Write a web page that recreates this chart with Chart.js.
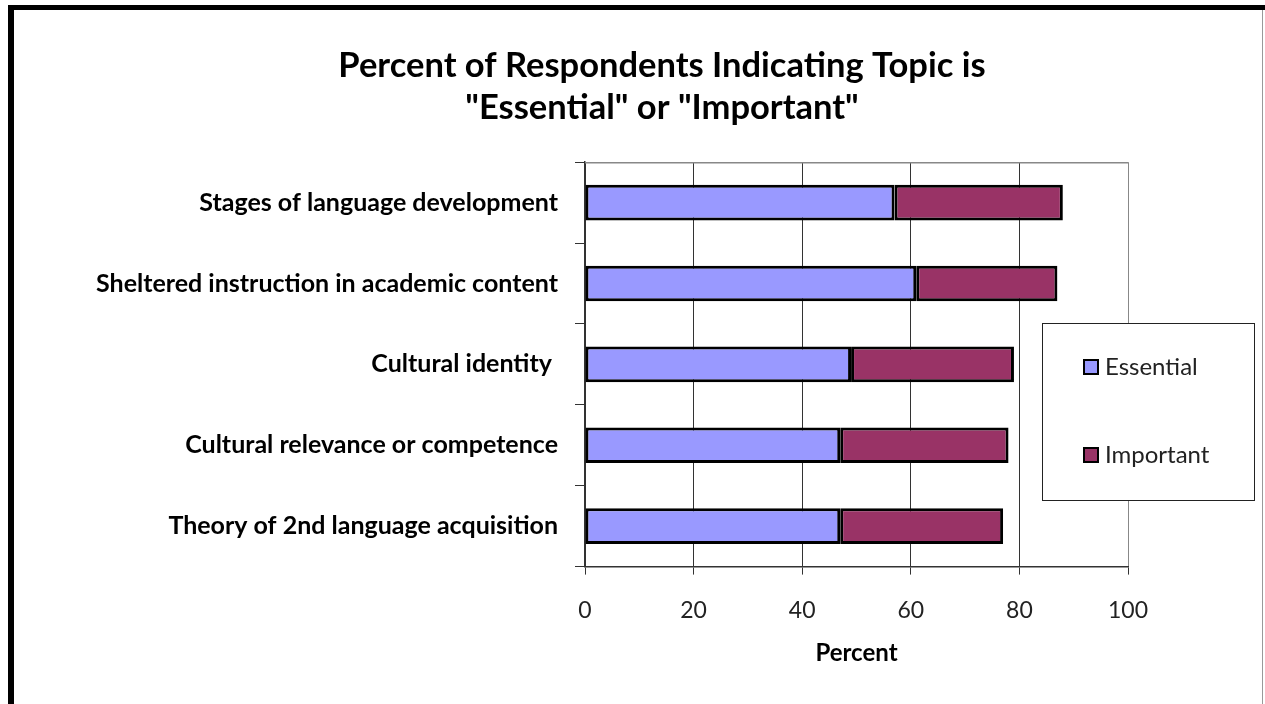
<!DOCTYPE html>
<html>
<head>
<meta charset="utf-8">
<script src="https://cdn.jsdelivr.net/npm/chart.js@4"></script>
<style>
html,body{margin:0;padding:0;background:#fff;}
#wrap{position:relative;width:1265px;height:704px;}
canvas{display:block;}
</style>
</head>
<body>
<div id="wrap"><canvas id="c" width="1265" height="704"></canvas></div>
<script>
const categories = [
  "Stages of language development",
  "Sheltered instruction in academic content",
  "Cultural identity ",
  "Cultural relevance or competence",
  "Theory of 2nd language acquisition"
];
const essential = [57, 61, 49, 47, 47];
const important = [31, 26, 30, 31, 30];
const seriesNames = ["Essential", "Important"];
const titleLines = ["Percent of Respondents Indicating Topic is", "\"Essential\" or \"Important\""];
const xTitle = "Percent";

const FONT = "Lato, 'Open Sans', sans-serif";

const framePlugin = {
  id: 'frame',
  afterLayout(chart) {
    if (chart.titleBlock) {
      chart.titleBlock.left = 196;
      chart.titleBlock.right = 1128;
    }
  },
  beforeDraw(chart) {
    const c = chart.ctx;
    c.save();
    c.fillStyle = '#fff';
    c.fillRect(0, 0, chart.width, chart.height);
    c.fillStyle = '#000';
    c.fillRect(8, 5, chart.width - 8, 5);
    c.fillRect(8, 5, 6, chart.height - 5);
    c.strokeStyle = '#999';
    c.lineWidth = 1;
    c.beginPath();
    c.moveTo(1262.5, 10); c.lineTo(1262.5, chart.height);
    c.stroke();
    c.restore();
  },
  afterDatasetsDraw(chart) {
    const c = chart.ctx;
    const a = chart.chartArea;
    c.save();
    c.strokeStyle = '#888';
    c.lineWidth = 1.5;
    c.beginPath();
    c.moveTo(a.left, a.top + 0.5); c.lineTo(a.right, a.top + 0.5);
    c.stroke();
    // legend
    const bx = 1042, by = 323, bw = 212, bh = 177;
    c.fillStyle = '#fff';
    c.fillRect(bx, by, bw, bh);
    c.strokeStyle = '#222';
    c.lineWidth = 1;
    c.strokeRect(bx + 0.5, by + 0.5, bw, bh);
    const ys = [367, 455];
    chart.data.datasets.forEach((ds, i) => {
      const y = ys[i];
      c.fillStyle = ds.backgroundColor;
      c.fillRect(1084, y - 7, 14, 14);
      c.strokeStyle = '#000';
      c.lineWidth = 2;
      c.strokeRect(1084, y - 7, 14, 14);
      c.fillStyle = '#222';
      c.font = "24px " + FONT;
      c.textBaseline = 'middle';
      c.textAlign = 'left';
      c.fillText(ds.label, 1105, y);
    });
    c.restore();
  }
};

new Chart(document.getElementById('c'), {
  type: 'bar',
  data: {
    labels: categories,
    datasets: [
      { label: seriesNames[0], data: essential, backgroundColor: '#9999FF', borderColor: '#000', borderWidth: 3, borderSkipped: false },
      { label: seriesNames[1], data: important, backgroundColor: '#993366', borderColor: '#000', borderWidth: 3, borderSkipped: false }
    ]
  },
  options: {
    indexAxis: 'y',
    responsive: false,
    animation: false,
    devicePixelRatio: 1,
    barPercentage: 0.44,
    categoryPercentage: 1,
    layout: { padding: { left: 20, right: 137, top: 30, bottom: 36 } },
    plugins: {
      legend: { display: false },
      tooltip: { enabled: false },
      title: {
        display: true,
        text: titleLines,
        color: '#000',
        font: { family: FONT, size: 34.5, weight: 'bold', lineHeight: 1.22 },
        padding: { top: 15, bottom: 33 }
      }
    },
    scales: {
      x: {
        stacked: true,
        min: 0, max: 100,
        ticks: { stepSize: 20, color: '#222', font: { family: FONT, size: 23 }, padding: 22 },
        grid: {
          color: (ctx) => (ctx.tick && ctx.tick.value === 100) ? '#888' : '#333',
          lineWidth: 1,
          drawTicks: true, tickLength: 8, tickColor: '#333'
        },
        border: { color: '#333', width: 1.5 },
        title: { display: true, text: xTitle, color: '#000', font: { family: FONT, size: 24, weight: 'bold', lineHeight: 1.2 }, padding: { top: -7, bottom: 0 } }
      },
      y: {
        stacked: true,
        afterFit: (s) => { s.width = 565; },
        ticks: { color: '#000', font: { family: FONT, size: 25, weight: 'bold' }, padding: 17 },
        grid: { drawOnChartArea: false, drawTicks: true, tickLength: 10, tickColor: '#333', offset: true },
        border: { color: '#333', width: 1.5 }
      }
    }
  },
  plugins: [framePlugin]
});
</script>
</body>
</html>
